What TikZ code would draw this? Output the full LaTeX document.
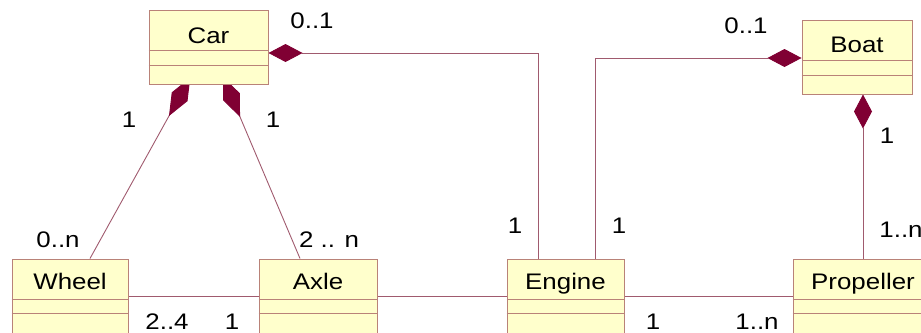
\documentclass[tikz,border=0pt]{standalone}
\usepackage{fontspec}
\setmainfont{Liberation Sans}[FakeStretch=1.15]
\usetikzlibrary{arrows.meta,calc}
\pgfdeclarelayer{background}
\pgfsetlayers{background,main}
\definecolor{boxfill}{RGB}{255,255,204}
\definecolor{boxline}{RGB}{185,130,120}
\definecolor{linkcol}{RGB}{160,90,110}
\definecolor{diafill}{RGB}{128,0,51}
\tikzset{
  cls/.style={draw=boxline, fill=boxfill, line width=1pt, inner sep=0pt, minimum width=#1},
  cls/.default=117pt,
  comp/.style={draw=boxline, line width=1pt},
  nm/.style={font=\fontsize{22.5}{24}\selectfont, inner sep=0pt, anchor=base, text=black},
  mult/.style={font=\fontsize{22.5}{24}\selectfont, inner sep=0pt, anchor=base, text=black},
  link/.style={draw=linkcol, line width=0.9pt},
  comp-dia/.style={{Diamond[length=#1, width=18pt, fill=diafill, color=diafill]}-},
  comp-dia/.default=34pt
}
\begin{document}
\begin{tikzpicture}[x=1pt, y=-1pt]
\useasboundingbox (0,0) rectangle (921,332);
\clip (0,0) rectangle (921,332);
% class boxes
\node[cls=119pt, minimum height=74pt] (car) at (208.5,47) {};
\node[cls=110pt, minimum height=74pt] (boat) at (857,57) {};
\node[cls=116pt, minimum height=80pt] (wheel) at (70,299) {};
\node[cls=118pt, minimum height=80pt] (axle) at (318,299) {};
\node[cls=117pt, minimum height=80pt] (engine) at (565.5,299) {};
\node[cls=140pt, minimum height=80pt] (prop) at (863,299) {};
% compartments
\draw[comp] (car.west |- 0,50) -- (car.east |- 0,50);
\draw[comp] (car.west |- 0,65) -- (car.east |- 0,65);
\draw[comp] (boat.west |- 0,60) -- (boat.east |- 0,60);
\draw[comp] (boat.west |- 0,75) -- (boat.east |- 0,75);
\foreach \b in {wheel,axle,engine,prop}{
  \draw[comp] (\b.west |- 0,299) -- (\b.east |- 0,299);
  \draw[comp] (\b.west |- 0,313) -- (\b.east |- 0,313);
}
% names
\node[nm] (carT) at (208.5,43) {Car};
\node[nm] (boatT) at (857,52) {Boat};
\node[nm] (wheelT) at (70,289) {Wheel};
\node[nm] (axleT) at (318,289) {Axle};
\node[nm] (engineT) at (565.5,289) {Engine};
\node[nm] (propT) at (863,289) {Propeller};
% connectors
\coordinate (cwl) at (190.3,77.5);
\coordinate (cal) at (222.9,76.5);
\begin{pgfonlayer}{background}
\draw[link, comp-dia] (car.east |- 0,53) -| ($(engine.north)+(-27.5,0)$);
\draw[link, comp-dia] (boat.west |- 0,58) -| ($(engine.north)+(29.5,0)$);
\draw[link, comp-dia] (boat.south -| 863,0) -- (prop.north -| 863,0);
\draw[link, comp-dia=44pt] (cwl) -- ($(wheel.north)+(20,0)$);
\draw[link, comp-dia=44pt] (cal) -- ($(axle.north)+(-18,0)$);
\draw[link] (wheel.east |- 0,296) -- (axle.west |- 0,296);
\draw[link] (axle.east |- 0,296) -- (engine.west |- 0,296);
\draw[link] (engine.east |- 0,296) -- (prop.west |- 0,296);
\end{pgfonlayer}
% multiplicities
\node[mult] (m1) at (312,28) {0..1};
\node[mult] (m2) at (746,33) {0..1};
\node[mult] (m3) at (887,143) {1};
\node[mult] (m4) at (901,237) {1..n};
\node[mult] (m5) at (129,127) {1};
\node[mult] (m6) at (273,127) {1};
\node[mult] (m7) at (58,247) {0..n};
\node[mult] (m8) at (329,247) {2 .. n};
\node[mult] (m9) at (515,233) {1};
\node[mult] (m10) at (619,233) {1};
\node[mult] (m11) at (167,329) {2..4};
\node[mult] (m12) at (232,329) {1};
\node[mult] (m13) at (653,329) {1};
\node[mult] (m14) at (757,329) {1..n};
\end{tikzpicture}
\end{document}
